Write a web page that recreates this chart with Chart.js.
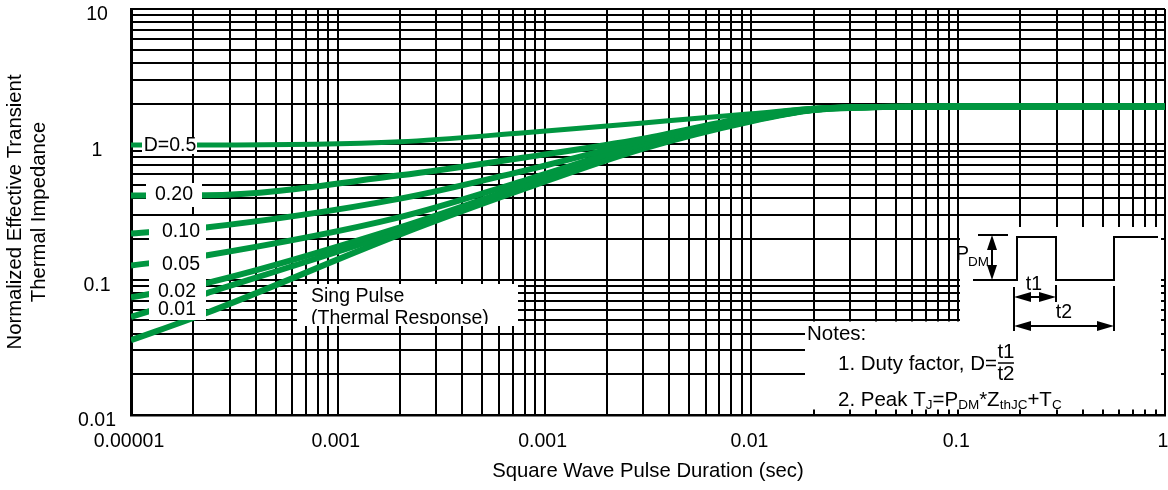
<!DOCTYPE html>
<html>
<head>
<meta charset="utf-8">
<title>Transient Thermal Impedance</title>
<script src="https://cdn.jsdelivr.net/npm/chart.js@4.4.1/dist/chart.umd.min.js"></script>
<style>
  html, body { margin: 0; padding: 0; background: #fff; }
  canvas { display: block; }
</style>
</head>
<body>
<canvas id="zth" width="1168" height="490"></canvas>
<script>
// pulse duration (s) and normalized Zth
const pulseTimes = [1e-5, 2.3e-5, 2e-4, 8e-4, 3e-3, 1e-2, 2e-2, 4e-2, 0.1, 1];
const zD50 = [0.99, 0.99, 1.045, 1.22, 1.44, 1.68, 1.85, 1.89, 1.9, 1.9];
const zD20 = [0.418, 0.42, 0.59, 0.80, 1.10, 1.60, 1.83, 1.89, 1.9, 1.9];
const zD10 = [0.219, 0.243, 0.397, 0.64, 1.06, 1.56, 1.82, 1.89, 1.9, 1.9];
const zD05 = [0.127, 0.151, 0.29, 0.54, 1.01, 1.53, 1.81, 1.89, 1.9, 1.9];
const zD02 = [0.074, 0.094, 0.243, 0.50, 0.98, 1.51, 1.80, 1.89, 1.9, 1.9];
const zD01 = [0.053, 0.079, 0.228, 0.48, 0.96, 1.50, 1.80, 1.89, 1.9, 1.9];
const zSingle = [0.0357, 0.0565, 0.216, 0.47, 0.93, 1.48, 1.79, 1.88, 1.9, 1.9];

const seriesNames = ["D=0.5", "0.20", "0.10", "0.05", "0.02", "0.01", "Sing Pulse"];
const seriesValues = [zD50, zD20, zD10, zD05, zD02, zD01, zSingle];

const xDecades = [1e-5, 1e-4, 1e-3, 1e-2, 1e-1, 1];
const xTickLabels = ["0.00001", "0.001", "0.001", "0.01", "0.1", "1"];
const yDecades = [0.01, 0.1, 1, 10];
const yTickLabels = ["0.01", "0.1", "1", "10"];

const GREEN = "#009640";
const FONT = '"Liberation Sans", Arial, Helvetica, sans-serif';
const FS = 19.5;
const NOTE_FS = 20.5;
const TITLE_FS = 20.3;

function gridValues(decades) {
  const vals = [];
  for (let i = 0; i < decades.length - 1; i++) {
    for (let k = 1; k < 10; k++) vals.push(decades[i] * k);
  }
  vals.push(decades[decades.length - 1]);
  return vals;
}

function decadeLabel(value, decades, labels) {
  const i = decades.findIndex((d) => Math.abs(Math.log10(value / d)) < 1e-6);
  return i >= 0 ? labels[i] : "";
}

function box(ctx, x, y, w, h) {
  ctx.fillStyle = "#fff";
  ctx.fillRect(x, y, w, h);
}

function text(ctx, s, x, y, size, align) {
  ctx.font = size + "px " + FONT;
  ctx.textAlign = align || "center";
  ctx.textBaseline = "middle";
  ctx.fillStyle = "#000";
  ctx.fillText(s, x, y);
  return ctx.measureText(s).width;
}

// text run with subscripts: [[str, isSub], ...]
function richText(ctx, parts, x, y) {
  let cx = x;
  parts.forEach(([s, sub]) => {
    cx += text(ctx, s, cx, sub ? y + 5 : y, sub ? 13.5 : NOTE_FS, "left");
  });
}

function path(ctx, pts) {
  ctx.beginPath();
  ctx.moveTo(pts[0][0], pts[0][1]);
  for (let i = 1; i < pts.length; i++) ctx.lineTo(pts[i][0], pts[i][1]);
  ctx.stroke();
}

function head(ctx, tx, ty, dx, dy, len) {
  const w = 5;
  const bx = tx - dx * len, by = ty - dy * len;
  ctx.beginPath();
  ctx.moveTo(tx, ty);
  ctx.lineTo(bx - dy * w, by + dx * w);
  ctx.lineTo(bx + dy * w, by - dx * w);
  ctx.closePath();
  ctx.fill();
}

const overlay = {
  id: "overlay",
  afterDatasetsDraw(chart) {
    const ctx = chart.ctx;
    ctx.save();

    // curve labels
    box(ctx, 142, 137, 55, 17);
    box(ctx, 146, 183, 56, 24);
    box(ctx, 149, 216, 57, 104);
    text(ctx, seriesNames[0], 170, 146, FS);
    text(ctx, seriesNames[1], 174, 195, FS);
    text(ctx, seriesNames[2], 181, 232, FS);
    text(ctx, seriesNames[3], 181, 265, FS);
    text(ctx, seriesNames[4], 177, 292, FS);
    text(ctx, seriesNames[5], 177, 310, FS);

    // single pulse label, clipped like the original
    box(ctx, 297, 284, 221, 42);
    ctx.save();
    ctx.beginPath();
    ctx.rect(297, 284, 221, 40);
    ctx.clip();
    text(ctx, "Sing Pulse", 311, 297, FS, "left");
    text(ctx, "(Thermal Response)", 311, 319, FS, "left");
    ctx.restore();

    // notes + waveform area
    box(ctx, 805, 321.5, 356, 88);
    box(ctx, 960, 227, 201, 95);

    text(ctx, "Notes:", 807, 334, NOTE_FS, "left");
    const w1 = text(ctx, "1. Duty factor, D=", 838, 364, NOTE_FS, "left");
    const fx = 838 + w1 + 9;
    text(ctx, "t1", fx, 352, NOTE_FS);
    text(ctx, "t2", fx, 374, NOTE_FS);
    ctx.strokeStyle = "#000";
    ctx.lineWidth = 1.5;
    path(ctx, [[fx - 8, 363], [fx + 8, 363]]);
    richText(ctx, [["2. Peak T", 0], ["J", 1], ["=P", 0], ["DM", 1], ["*Z", 0], ["thJC", 1], ["+T", 0], ["C", 1]], 838, 400);

    // square wave sketch
    ctx.strokeStyle = "#000";
    ctx.fillStyle = "#000";
    ctx.lineWidth = 2;
    path(ctx, [[978, 235], [1008, 235]]);
    path(ctx, [[973, 280], [1017, 280], [1017, 237], [1056, 237], [1056, 280], [1114, 280], [1114, 237], [1158, 237]]);
    path(ctx, [[992, 240], [992, 275]]);
    head(ctx, 992, 235, 0, -1, 15);
    head(ctx, 992, 280, 0, 1, 15);
    path(ctx, [[1014, 287], [1014, 331]]);
    path(ctx, [[1056, 285], [1056, 302]]);
    path(ctx, [[1114, 286], [1114, 331]]);
    path(ctx, [[1018, 297], [1052, 297]]);
    head(ctx, 1014, 297, -1, 0, 17);
    head(ctx, 1056, 297, 1, 0, 17);
    path(ctx, [[1018, 326], [1110, 326]]);
    head(ctx, 1014, 326, -1, 0, 17);
    head(ctx, 1114, 326, 1, 0, 17);
    text(ctx, "P", 956, 255, FS, "left");
    text(ctx, "DM", 968, 262, 13.5, "left");
    text(ctx, "t1", 1034, 285, FS);
    text(ctx, "t2", 1064, 313, FS);

    ctx.restore();
  },
};

const datasets = seriesValues.map((vals, i) => ({
  label: seriesNames[i],
  data: pulseTimes.map((t, j) => ({ x: t, y: vals[j] })),
  borderColor: GREEN,
  backgroundColor: GREEN,
  borderWidth: i === 0 ? 5 : 6,
  pointRadius: 0,
  cubicInterpolationMode: "monotone",
  fill: false,
}));

new Chart(document.getElementById("zth"), {
  type: "line",
  data: { datasets },
  plugins: [overlay],
  options: {
    responsive: false,
    animation: false,
    devicePixelRatio: 1,
    layout: { padding: { top: 9, right: 3, bottom: 0, left: 0 } },
    plugins: { legend: { display: false }, tooltip: { enabled: false } },
    scales: {
      x: {
        type: "logarithmic",
        min: xDecades[0],
        max: xDecades[xDecades.length - 1],
        afterBuildTicks: (scale) => {
          scale.ticks = gridValues(xDecades).map((v) => ({ value: v }));
        },
        afterFit: (scale) => {
          scale.height = 75;
          scale.paddingLeft = 0;
          scale.paddingRight = 0;
        },
        ticks: {
          autoSkip: false,
          maxRotation: 0,
          padding: 15,
          labelOffset: -2,
          color: "#000",
          font: { family: FONT, size: FS },
          callback: (v) => decadeLabel(v, xDecades, xTickLabels),
        },
        grid: { color: "#000", lineWidth: 2, drawTicks: false },
        border: { color: "#000", width: 2.5 },
        title: {
          display: true,
          text: "Square Wave Pulse Duration (sec)",
          color: "#000",
          font: { family: FONT, size: TITLE_FS },
          padding: { top: 0, bottom: 6 },
        },
      },
      y: {
        type: "logarithmic",
        min: yDecades[0],
        max: yDecades[yDecades.length - 1],
        afterBuildTicks: (scale) => {
          scale.ticks = gridValues(yDecades).map((v) => ({ value: v }));
        },
        afterFit: (scale) => {
          scale.width = 131;
          scale.paddingTop = 0;
          scale.paddingBottom = 0;
        },
        ticks: {
          autoSkip: false,
          padding: 15,
          labelOffset: 6,
          crossAlign: "center",
          color: "#000",
          font: { family: FONT, size: FS },
          callback: (v) => decadeLabel(v, yDecades, yTickLabels),
        },
        grid: { color: "#000", lineWidth: 2, drawTicks: false },
        border: { color: "#000", width: 3 },
        title: {
          display: true,
          text: ["Normalized Effective Transient", "Thermal Impedance"],
          color: "#000",
          font: { family: FONT, size: TITLE_FS },
          padding: { top: 3, bottom: 0 },
        },
      },
    },
  },
});
</script>
</body>
</html>
